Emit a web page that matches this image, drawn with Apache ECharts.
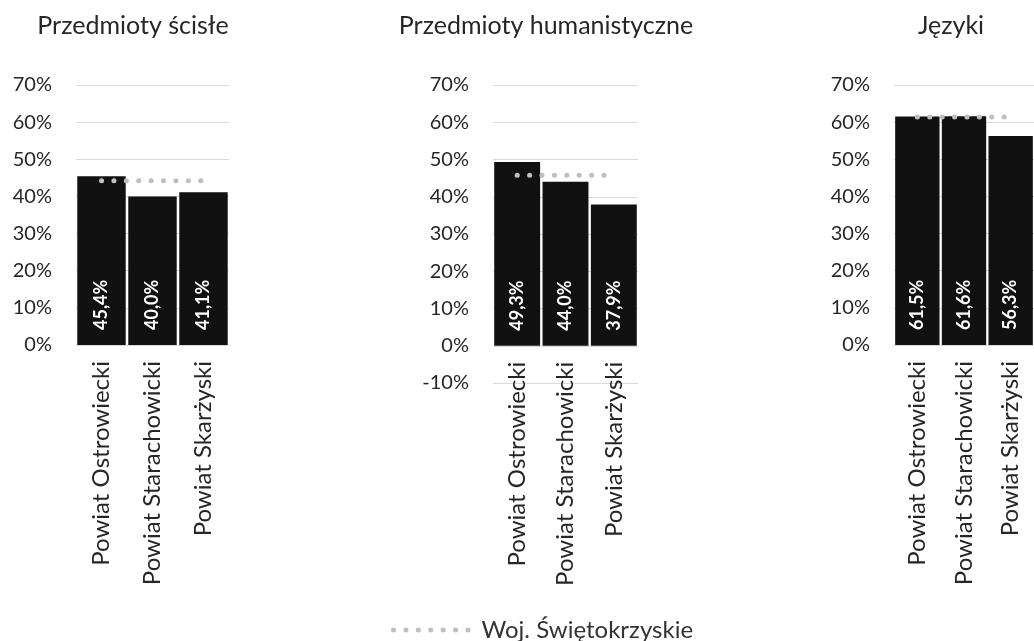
<!DOCTYPE html>
<html>
<head>
<meta charset="utf-8">
<script src="https://cdn.jsdelivr.net/npm/echarts@6/dist/echarts.min.js"></script>
<style>
html,body{margin:0;padding:0;background:#fff;}
#chart{width:1034px;height:641px;}
</style>
</head>
<body>
<div id="chart"></div>
<script>
// ---- data ----
const categories = ['Powiat Ostrowiecki', 'Powiat Starachowicki', 'Powiat Skarżyski'];
const panelTitles = ['Przedmioty ścisłe', 'Przedmioty humanistyczne', 'Języki'];
const scisle = [45.4, 40.0, 41.1];
const humanistyczne = [49.3, 44.0, 37.9];
const jezyki = [61.5, 61.6, 56.3];
const wojScisle = 44.2;
const wojHumanistyczne = 45.8;
const wojJezyki = 61.4;
const legendName = 'Woj. Świętokrzyskie';
const yMins = [0, -10, 0];
const yMax = 70;

// ---- layout / style ----
const FONT = 'Lato';
const panels = [
  {left: 76, width: 153, height: 260, titleX: 128},
  {left: 493, width: 145, height: 298, titleX: 541},
  {left: 894, width: 153, height: 260, titleX: 946}
];
const barsData = [scisle, humanistyczne, jezyki];
const wojData = [wojScisle, wojHumanistyczne, wojJezyki];
const DOT = {color: '#bfbfbf', width: 5, type: [0.1, 12.3], cap: 'round'};

const fmtPct = v => String(v.toFixed(1)).replace('.', ',') + '%';

const option = {
  backgroundColor: '#fff',
  animation: false,
  title: panels.map((p, i) => ({
    text: panelTitles[i],
    left: p.titleX,
    top: 8,
    textAlign: 'center',
    textStyle: {fontFamily: FONT, fontSize: 25, fontWeight: 'normal', color: '#262626'}
  })),
  legend: {
    data: [legendName],
    left: 386,
    top: 613,
    itemWidth: 77,
    itemHeight: 8,
    itemStyle: {opacity: 0},
    lineStyle: DOT,
    textStyle: {fontFamily: FONT, fontSize: 24, color: '#333333', padding: [0, 0, 0, 6]}
  },
  grid: panels.map(p => ({left: p.left, top: 85, width: p.width, height: p.height})),
  xAxis: panels.map((p, i) => ({
    type: 'category',
    gridIndex: i,
    data: categories,
    offset: -p.height * (0 - yMins[i]) / (yMax - yMins[i]),
    axisLine: {onZero: false, lineStyle: {color: '#d9d9d9', width: 1}},
    axisTick: {show: false},
    axisLabel: {
      rotate: 90,
      margin: 16,
      fontFamily: FONT,
      fontSize: 24,
      color: '#262626'
    }
  })),
  yAxis: panels.map((p, i) => ({
    type: 'value',
    gridIndex: i,
    min: yMins[i],
    max: yMax,
    interval: 10,
    axisLine: {show: false},
    axisTick: {show: false},
    splitLine: {lineStyle: {color: '#d9d9d9', width: 1}},
    axisLabel: {
      margin: 24,
      fontFamily: FONT,
      fontSize: 20,
      color: '#262626',
      formatter: v => Math.round(v) + '%'
    }
  })),
  series: []
};

panels.forEach((p, i) => {
  option.series.push({
    type: 'bar',
    name: panelTitles[i],
    xAxisIndex: i,
    yAxisIndex: i,
    data: barsData[i],
    barCategoryGap: '5%',
    itemStyle: {color: '#111111'},
    label: {
      show: true,
      position: 'insideBottom',
      distance: 15,
      rotate: 90,
      align: 'left',
      verticalAlign: 'middle',
      fontFamily: FONT,
      fontSize: 18,
      fontWeight: 'bold',
      color: '#ffffff',
      formatter: d => fmtPct(d.value)
    },
    z: 2
  });
  option.series.push({
    type: 'line',
    name: legendName,
    xAxisIndex: i,
    yAxisIndex: i,
    data: categories.map(() => wojData[i]),
    symbol: 'none',
    color: '#bfbfbf',
    itemStyle: {color: '#bfbfbf'},
    lineStyle: DOT,
    z: 3
  });
});

const chart = echarts.init(document.getElementById('chart'), null, {renderer: 'canvas'});
chart.setOption(option);
</script>
</body>
</html>
